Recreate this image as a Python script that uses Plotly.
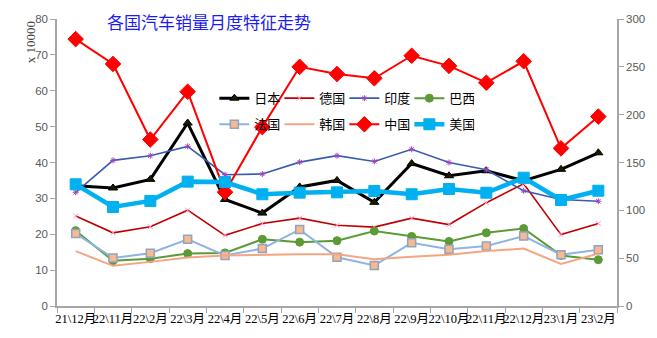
import plotly.graph_objects as go

months = ["21\\12月", "22\\11月", "22\\2月", "22\\3月", "22\\4月", "22\\5月", "22\\6月", "22\\7月",
          "22\\8月", "22\\9月", "22\\10月", "22\\11月", "22\\12月", "23\\1月", "23\\2月"]

japan   = [33.5, 32.9, 35.3, 51.0, 29.7, 25.9, 33.2, 35.0, 28.9, 39.7, 36.3, 37.7, 34.9, 38.1, 42.7]
germany = [25.1, 20.4, 22.1, 26.7, 19.7, 23.0, 24.5, 22.5, 22.0, 24.5, 22.7, 28.8, 34.1, 19.9, 23.0]
india   = [31.7, 40.6, 41.9, 44.5, 36.6, 36.8, 40.1, 41.9, 40.3, 43.7, 40.0, 38.0, 32.1, 29.7, 29.2]
brazil  = [21.0, 12.6, 13.2, 14.6, 14.8, 18.6, 17.8, 18.2, 20.9, 19.4, 18.0, 20.4, 21.6, 14.1, 12.9]
france  = [20.2, 13.4, 14.7, 18.6, 14.1, 16.0, 21.3, 13.6, 11.3, 17.6, 15.8, 16.7, 19.5, 14.3, 15.7]
korea   = [15.3, 11.2, 12.3, 13.5, 14.1, 14.3, 14.4, 14.4, 13.0, 13.7, 14.3, 15.3, 16.0, 11.7, 14.6]
china   = [279, 253, 174, 224, 119, 187, 250, 242.5, 238, 261.6, 251, 233.4, 255.8, 164.8, 198]
usa     = [127.2, 103.5, 109.8, 130, 129.6, 116.8, 118.5, 118.8, 120.2, 116.8, 122.3, 118.4, 134.1, 110.8, 120.5]

x = list(range(len(months)))
CJK = "Liberation Serif, Noto Sans CJK SC"

fig = go.Figure()

def add(name, y, color, width, symbol=None, msize=0, mcolor=None, mline=None, mlw=1, yaxis="y", legend="legend"):
    mode = "lines+markers" if symbol else "lines"
    marker = None
    if symbol:
        marker = dict(symbol=symbol, size=msize, color=mcolor or color,
                      line=dict(color=mline or color, width=mlw))
    fig.add_trace(go.Scatter(x=x, y=y, name=name, mode=mode, yaxis=yaxis, legend=legend,
                             line=dict(color=color, width=width), marker=marker))

add("日本", japan, "#000000", 3, "triangle-up", 8, "#1a1a00", "#000000", 1)
add("德国", germany, "#C00000", 1.6, "x-thin-open", 5, "#FF99CC", "#FF99CC", 1)
add("印度", india, "#3A5BAE", 1.6, "asterisk-open", 5, "#A040C0", "#A040C0", 1)
add("巴西", brazil, "#5B9A35", 2, "circle", 8, "#5B9A35", "#5B9A35", 1)
add("法国", france, "#8DB4E2", 2, "square", 8, "#F9B98A", "#8DA4C4", 1.5, legend="legend2")
add("韩国", korea, "#F4A582", 2, legend="legend2")
add("中国", china, "#FF0000", 2, "diamond", 12, "#FF0000", "#FF0000", 1, yaxis="y2", legend="legend2")
add("美国", usa, "#00B0F0", 4.5, "square", 11, "#00B0F0", "#00B0F0", 1, yaxis="y2", legend="legend2")

axis_color = "#A6A6A6"
leg_common = dict(orientation="h", xanchor="left", yanchor="middle", bgcolor="rgba(0,0,0,0)",
                  font=dict(family=CJK, size=13, color="#000000"),
                  entrywidth=20, entrywidthmode="pixels", itemwidth=30, tracegroupgap=0)

pw, ph = 657 - 57 - 34, 338 - 19 - 32

fig.update_layout(
    width=657, height=338,
    margin=dict(l=57, r=34, t=19, b=32),
    paper_bgcolor="white", plot_bgcolor="white",
    showlegend=True,
    xaxis=dict(range=[-0.5, 14.5], tickmode="array", tickvals=x, ticktext=months,
               ticks="", tickangle=0, showgrid=False, zeroline=False,
               showline=True, linecolor=axis_color, linewidth=1.5,
               tickfont=dict(family=CJK, size=12.5, color="#000000"),
               minor=dict(tickmode="linear", tick0=-0.5, dtick=1, ticks="outside",
                          ticklen=5, tickcolor=axis_color, showgrid=False)),
    yaxis=dict(range=[0, 80], dtick=10, showgrid=False, zeroline=False,
               showline=True, linecolor=axis_color, linewidth=1.5,
               ticks="outside", ticklen=5, tickcolor=axis_color,
               tickfont=dict(family="Liberation Sans", size=11.5, color="#595959")),
    yaxis2=dict(range=[0, 300], dtick=50, overlaying="y", side="right",
                showgrid=False, zeroline=False,
                showline=True, linecolor=axis_color, linewidth=1.5,
                ticks="outside", ticklen=5, tickcolor=axis_color,
                tickfont=dict(family="Liberation Sans", size=11.5, color="#595959")),
    legend=dict(x=0.281, y=0.724, **leg_common),
    legend2=dict(x=0.281, y=0.633, **leg_common),
    annotations=[
        dict(text="各国汽车销量月度特征走势", x=(211 - 57) / pw, y=(306 - 21) / ph,
             xref="paper", yref="paper", xanchor="center", yanchor="middle",
             showarrow=False, font=dict(family="Noto Sans CJK SC", size=17, color="#1C1CF0")),
        dict(text="x 10000", textangle=-90, x=(30 - 57) / pw, y=(306 - 42) / ph,
             xref="paper", yref="paper", xanchor="center", yanchor="middle",
             showarrow=False, font=dict(family="Liberation Serif", size=13, color="#404040")),
    ],
)

fig.write_html("out.html")
